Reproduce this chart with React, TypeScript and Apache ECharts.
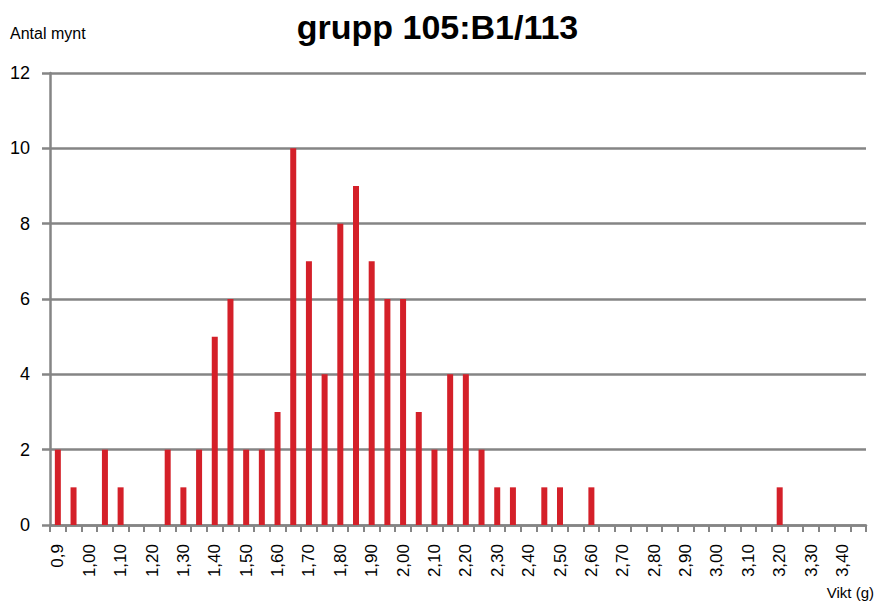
import React, { useEffect, useRef } from "react";
import * as echarts from "echarts";

const categories: string[] = [
  "0,9", "0,95", "1,00", "1,05", "1,10", "1,15", "1,20", "1,25", "1,30", "1,35",
  "1,40", "1,45", "1,50", "1,55", "1,60", "1,65", "1,70", "1,75", "1,80", "1,85",
  "1,90", "1,95", "2,00", "2,05", "2,10", "2,15", "2,20", "2,25", "2,30", "2,35",
  "2,40", "2,45", "2,50", "2,55", "2,60", "2,65", "2,70", "2,75", "2,80", "2,85",
  "2,90", "2,95", "3,00", "3,05", "3,10", "3,15", "3,20", "3,25", "3,30", "3,35",
  "3,40", "3,45",
];

const counts: number[] = [
  2, 1, 0, 2, 1, 0, 0, 2, 1, 2,
  5, 6, 2, 2, 3, 10, 7, 4, 8, 9,
  7, 6, 6, 3, 2, 4, 4, 2, 1, 1,
  0, 1, 1, 0, 1, 0, 0, 0, 0, 0,
  0, 0, 0, 0, 0, 0, 1, 0, 0, 0,
  0, 0,
];

const titleText = "grupp 105:B1/113";
const yAxisTitle = "Antal mynt";
const xAxisTitle = "Vikt (g)";

const FONT = "'Liberation Sans', Arial, sans-serif";
const GRID_COLOR = "#858585";

export default function App() {
  const ref = useRef<HTMLDivElement>(null);
  useEffect(() => {
    if (!ref.current) return;
    const chart = echarts.init(ref.current, undefined, { renderer: "svg" });
    chart.setOption({
      animation: false,
      backgroundColor: "#ffffff",
      title: {
        text: titleText,
        left: "center",
        top: 5,
        textStyle: { fontFamily: FONT, fontSize: 34, fontWeight: "bold", color: "#000" },
      },
      graphic: [
        {
          type: "text",
          left: 10,
          top: 25,
          style: { text: yAxisTitle, fontFamily: FONT, fontSize: 16, fill: "#000" },
        },
        {
          type: "text",
          right: 1,
          top: 585,
          style: { text: xAxisTitle, fontFamily: FONT, fontSize: 15, fill: "#000" },
        },
      ],
      grid: { left: 50, right: 9, top: 73, bottom: 76, containLabel: false },
      xAxis: {
        type: "category",
        data: categories,
        boundaryGap: true,
        axisLine: { show: true, lineStyle: { color: GRID_COLOR, width: 2.5 } },
        axisTick: { show: true, interval: 0, length: 7, lineStyle: { color: GRID_COLOR, width: 2 } },
        axisLabel: {
          interval: 1,
          rotate: 90,
          margin: 19,
          fontFamily: FONT,
          fontSize: 17,
          color: "#000",
        },
      },
      yAxis: {
        type: "value",
        min: 0,
        max: 12,
        interval: 2,
        axisLine: { show: true, lineStyle: { color: GRID_COLOR, width: 2.5 } },
        axisTick: { show: true, length: 8, lineStyle: { color: GRID_COLOR, width: 2.5 } },
        splitLine: { show: true, lineStyle: { color: GRID_COLOR, width: 2.5 } },
        axisLabel: { margin: 20, fontFamily: FONT, fontSize: 18, color: "#000" },
      },
      series: [
        {
          type: "bar",
          data: counts,
          barWidth: 6,
          itemStyle: { color: "#D42029" },
        },
      ],
    });
    return () => chart.dispose();
  }, []);
  return (
    <div
      ref={ref}
      style={{ position: "fixed", left: 0, top: 0, width: 875, height: 601 }}
    />
  );
}
